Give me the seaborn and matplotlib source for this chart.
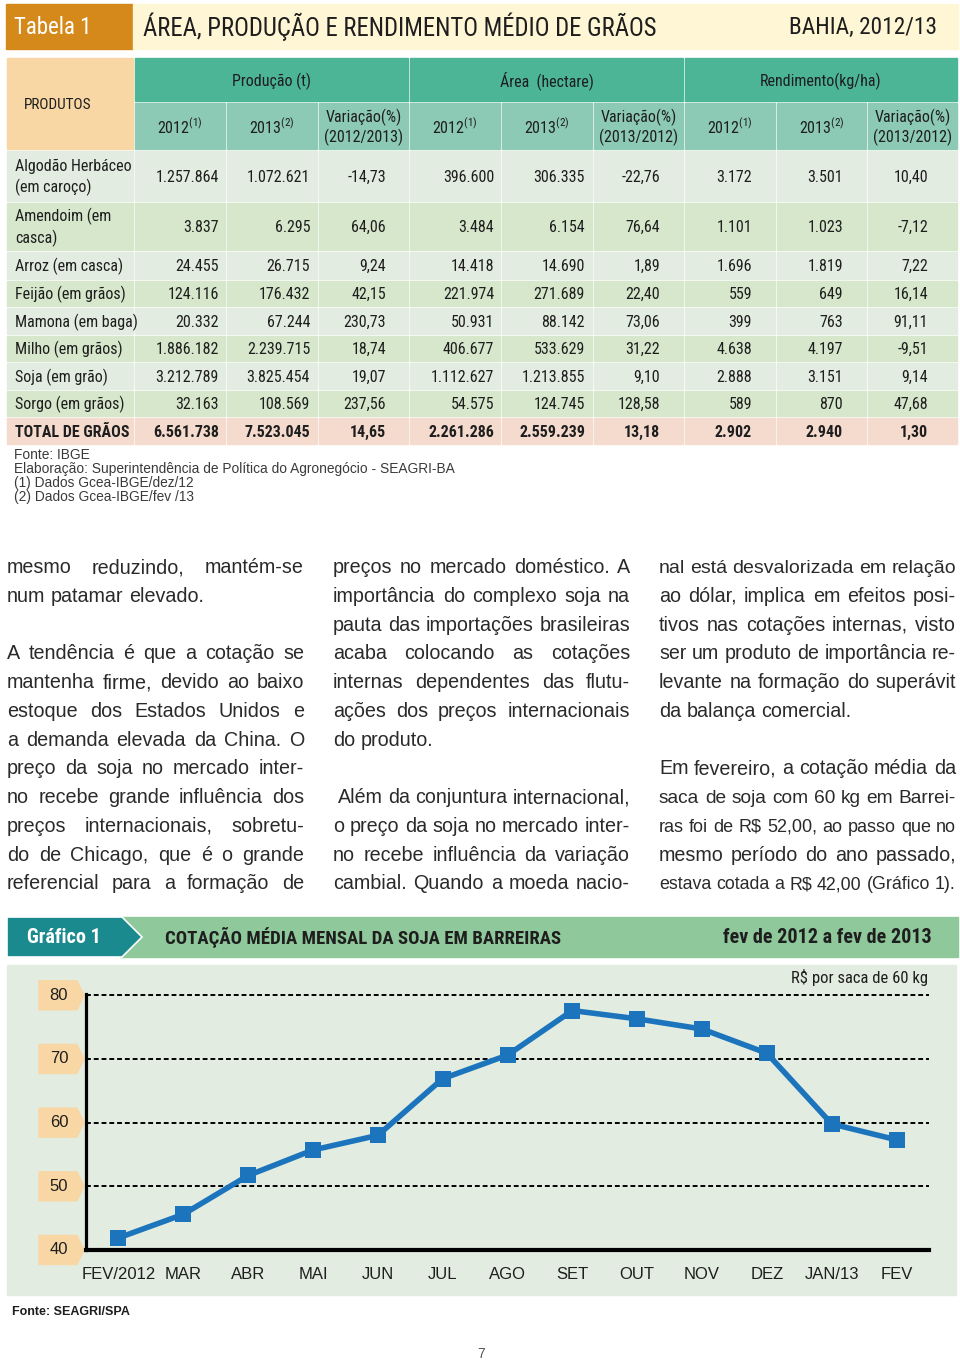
import numpy as np
import pandas as pd
import matplotlib
matplotlib.use("Agg")
import matplotlib.pyplot as plt
from matplotlib import font_manager
from matplotlib.patches import Rectangle, Polygon
import seaborn as sns

# ---------------- Tabela 1 ----------------
produtos = ["Algodão Herbáceo\n(em caroço)", "Amendoim (em\ncasca)", "Arroz (em casca)",
            "Feijão (em grãos)", "Mamona (em baga)", "Milho (em grãos)",
            "Soja (em grão)", "Sorgo (em grãos)", "TOTAL DE GRÃOS"]
producao_2012 = ["1.257.864", "3.837", "24.455", "124.116", "20.332", "1.886.182", "3.212.789", "32.163", "6.561.738"]
producao_2013 = ["1.072.621", "6.295", "26.715", "176.432", "67.244", "2.239.715", "3.825.454", "108.569", "7.523.045"]
producao_var = ["-14,73", "64,06", "9,24", "42,15", "230,73", "18,74", "19,07", "237,56", "14,65"]
area_2012 = ["396.600", "3.484", "14.418", "221.974", "50.931", "406.677", "1.112.627", "54.575", "2.261.286"]
area_2013 = ["306.335", "6.154", "14.690", "271.689", "88.142", "533.629", "1.213.855", "124.745", "2.559.239"]
area_var = ["-22,76", "76,64", "1,89", "22,40", "73,06", "31,22", "9,10", "128,58", "13,18"]
rend_2012 = ["3.172", "1.101", "1.696", "559", "399", "4.638", "2.888", "589", "2.902"]
rend_2013 = ["3.501", "1.023", "1.819", "649", "763", "4.197", "3.151", "870", "2.940"]
rend_var = ["10,40", "-7,12", "7,22", "16,14", "91,11", "-9,51", "9,14", "47,68", "1,30"]

grupos = ["Produção (t)", "Área  (hectare)", "Rendimento(kg/ha)"]
subtitulos = ["2012$^{(1)}$", "2013$^{(2)}$", "Variação(%)\n(2012/2013)",
              "2012$^{(1)}$", "2013$^{(2)}$", "Variação(%)\n(2013/2012)",
              "2012$^{(1)}$", "2013$^{(2)}$", "Variação(%)\n(2013/2012)"]
notas = ["Fonte: IBGE",
         "Elaboração: Superintendência de Política do Agronegócio - SEAGRI-BA",
         "(1) Dados Gcea-IBGE/dez/12",
         "(2) Dados Gcea-IBGE/fev /13"]

# ---------------- Grafico 1 ----------------
meses = ["FEV/2012", "MAR", "ABR", "MAI", "JUN", "JUL", "AGO", "SET", "OUT", "NOV", "DEZ", "JAN/13", "FEV"]
cotacao = [41.9, 45.6, 51.7, 55.7, 58.0, 66.9, 70.6, 77.6, 76.3, 74.7, 70.9, 59.8, 57.3]
y_ticks = [40, 50, 60, 70, 80]

# ---------------- texto corrido ----------------
coluna_1 = ["mesmo reduzindo, mantém-se",
            "num patamar elevado.",
            "",
            "A tendência é que a cotação se",
            "mantenha firme, devido ao baixo",
            "estoque dos Estados Unidos e",
            "a demanda elevada da China. O",
            "preço da soja no mercado inter-",
            "no recebe grande influência dos",
            "preços internacionais, sobretu-",
            "do de Chicago, que é o grande",
            "referencial para a formação de"]
coluna_2 = ["preços no mercado doméstico. A",
            "importância do complexo soja na",
            "pauta das importações brasileiras",
            "acaba colocando as cotações",
            "internas dependentes das flutu-",
            "ações dos preços internacionais",
            "do produto.",
            "",
            " Além da conjuntura internacional,",
            "o preço da soja no mercado inter-",
            "no recebe influência da variação",
            "cambial. Quando a moeda nacio-"]
coluna_3 = ["nal está desvalorizada em relação",
            "ao dólar, implica em efeitos posi-",
            "tivos nas cotações internas, visto",
            "ser um produto de importância re-",
            "levante na formação do superávit",
            "da balança comercial.",
            "",
            "Em fevereiro, a cotação média da",
            "saca de soja com 60 kg em Barrei-",
            r"ras foi de R\$ 52,00, ao passo que no",
            "mesmo período do ano passado,",
            r"estava cotada a R\$ 42,00 (Gráfico 1)."]

sns.set_style("white")
plt.rcParams["font.family"] = ["Liberation Sans", "DejaVu Sans"]
plt.rcParams["mathtext.default"] = "regular"

installed = {f.name for f in font_manager.fontManager.ttflist}
NARROW = {"family": ["DejaVu Sans"], "fontstretch": "condensed"}
for cand in ["Roboto Condensed", "Liberation Sans Narrow", "Open Sans Condensed"]:
    if cand in installed:
        NARROW = {"family": [cand, "DejaVu Sans"]}
        break

PEACH = "#f9d7a4"
TEAL = "#4bb596"
TEAL_LIGHT = "#8ccab6"
LIGHT = "#e3ece0"
GREEN = "#d6e7cc"
PINK = "#f4dbce"
INK = "#1e1e1e"
BLUE = "#1c75bc"

fig = plt.figure(figsize=(9.6, 13.61), dpi=100)
fig.patch.set_facecolor("white")
page = fig.add_axes([0, 0, 1, 1], zorder=0)
page.set_xlim(0, 960)
page.set_ylim(1361, 0)
page.axis("off")

# titulo da tabela
page.add_patch(Rectangle((6, 4), 127, 45, color="#d4891a"))
page.add_patch(Rectangle((133, 4), 825, 45, color="#fef6d4"))
page.text(14, 27, "Tabela 1", color="white", fontsize=16.5, va="center", **NARROW)
page.text(143, 27, "ÁREA, PRODUÇÃO E RENDIMENTO MÉDIO DE GRÃOS", color=INK, fontsize=17.8,
          va="center", **NARROW)
page.text(937, 27, "BAHIA, 2012/13", color=INK, fontsize=16.8, va="center", ha="right", **NARROW)

# cabecalho
col_x = [7, 134, 226, 318, 409, 501, 593, 684, 776, 867, 958]
page.add_patch(Rectangle((7, 58), 126, 91, color=PEACH))
page.text(24, 105, "PRODUTOS", color=INK, fontsize=11, va="center", **NARROW)
for g, nome in enumerate(grupos):
    x0, x1 = col_x[1 + 3 * g], col_x[4 + 3 * g]
    page.add_patch(Rectangle((x0 + 1, 58), x1 - x0 - 2, 43, color=TEAL))
    page.text((x0 + x1) / 2, 81, nome, color=INK, fontsize=11.5, ha="center", va="center", **NARROW)
for c, nome in enumerate(subtitulos):
    x0, x1 = col_x[c + 1], col_x[c + 2]
    page.add_patch(Rectangle((x0 + 1, 103), x1 - x0 - 2, 46, color=TEAL_LIGHT))
    page.text((x0 + x1) / 2, 127, nome, color=INK, fontsize=11.5, ha="center", va="center",
              linespacing=1.2, **NARROW)

# linhas de dados
valores = [producao_2012, producao_2013, producao_var, area_2012, area_2013, area_var,
           rend_2012, rend_2013, rend_var]
pads = [7, 8, 23, 7, 8, 24, 24, 24, 30]
row_h = [52, 49, 29, 27, 28, 27, 28, 27, 28]
cores = [LIGHT, GREEN, LIGHT, GREEN, LIGHT, GREEN, LIGHT, GREEN, PINK]
top = 151
for r, nome in enumerate(produtos):
    h = row_h[r]
    yc = top + (h - 2) / 2 + 1
    peso = "bold" if r == len(produtos) - 1 else "normal"
    page.add_patch(Rectangle((7, top), 126, h - 2, color=cores[r]))
    page.text(15, yc, nome, color=INK, fontsize=11.5, va="center", weight=peso,
              linespacing=1.35, **NARROW)
    for c, serie in enumerate(valores):
        x0, x1 = col_x[c + 1], col_x[c + 2]
        page.add_patch(Rectangle((x0 + 1, top), x1 - x0 - 2, h - 2, color=cores[r]))
        page.text(x1 - pads[c], yc, serie[r], color=INK, fontsize=11.5, ha="right",
                  va="center", weight=peso, **NARROW)
    top += h

for k, nota in enumerate(notas):
    page.text(14, 455 + 14 * k, nota, color="#3a3a3a", fontsize=9.9, va="center")

# texto em tres colunas justificado
renderer = fig.canvas.get_renderer()
CORPO = 14.2
BODY = dict(color="#2a2a2a", va="baseline", ha="left")


def escreve_coluna(linhas, x0, largura, continua):
    for k, linha in enumerate(linhas):
        if not linha.strip():
            continue
        y = 573 + 28.75 * k
        prox = linhas[k + 1] if k + 1 < len(linhas) else None
        justifica = (prox is not None and prox.strip() != "") or (prox is None and continua)
        inicio = x0 + 5 * (len(linha) - len(linha.lstrip()))
        palavras = linha.split()
        textos = [page.text(0, y, p, fontsize=CORPO, **BODY) for p in palavras]
        larg = [t.get_window_extent(renderer).width for t in textos]
        espaco = 0.278 * CORPO * 100 / 72
        natural = sum(larg) + espaco * (len(palavras) - 1)
        disponivel = x0 + largura - inicio
        if natural > disponivel:
            fator = disponivel / natural
            for t in textos:
                t.set_fontsize(CORPO * fator)
            larg = [t.get_window_extent(renderer).width for t in textos]
            espaco *= fator
        if justifica and len(palavras) > 1:
            gap = (disponivel - sum(larg)) / (len(palavras) - 1)
        else:
            gap = espaco
        x = inicio
        for t, w in zip(textos, larg):
            t.set_x(x)
            x += w + gap


escreve_coluna(coluna_1, 7, 297, True)
escreve_coluna(coluna_2, 333, 297, True)
escreve_coluna(coluna_3, 659, 297, False)

# faixa do grafico
page.add_patch(Rectangle((120, 917), 838, 40, color="#8fc99b"))
page.add_patch(Polygon([(7, 917), (122, 917), (142, 937), (122, 957), (7, 957)],
                       closed=True, facecolor="#1b8a8e", edgecolor="white", lw=1.2))
page.text(27, 937, "Gráfico 1", color="white", fontsize=14.5, va="center", weight="bold", **NARROW)
page.text(165, 937, "COTAÇÃO MÉDIA MENSAL DA SOJA EM BARREIRAS", color=INK, fontsize=13.5,
          va="center", weight="bold", **NARROW)
page.text(932, 937, "fev de 2012 a fev de 2013", color=INK, fontsize=14.5, va="center",
          ha="right", weight="bold", **NARROW)
page.add_patch(Rectangle((7, 965), 949, 330, color="#e3ece1"))
page.text(928, 977, r"R\$ por saca de 60 kg", color=INK, fontsize=12, ha="right",
          va="center", **NARROW)

ax = fig.add_axes([86 / 960, (1361 - 1250) / 1361, 843 / 960, 256 / 1361], zorder=2)
ax.set_facecolor("none")
df = pd.DataFrame({"pos": np.arange(len(meses)), "cotacao": cotacao})
sns.lineplot(data=df, x="pos", y="cotacao", ax=ax, color=BLUE, lw=4, marker="s",
             markersize=12, markeredgewidth=0, sort=False, zorder=3)
ax.set_xlim(-0.5, len(meses) - 0.5)
ax.set_ylim(40, 80.2)
ax.set_xticks(df["pos"], meses)
ax.set_xticks(df["pos"] + 0.5, minor=True)
ax.set_yticks(y_ticks)
ax.set_xlabel("")
ax.set_ylabel("")
ax.grid(axis="y", color="black", linestyle=(0, (2.5, 1.5)), lw=1.4)
ax.tick_params(axis="x", which="major", length=0, pad=12, labelsize=12, labelcolor=INK)
ax.tick_params(axis="x", which="minor", direction="in", length=5, width=2.5, color="black")
ax.tick_params(axis="y", direction="in", length=3, width=2.5, color="black", labelleft=False)
for s in ["top", "right"]:
    ax.spines[s].set_visible(False)
ax.spines["left"].set_linewidth(2.3)
ax.spines["bottom"].set_linewidth(3)
ax.spines["left"].set_color("black")
ax.spines["bottom"].set_color("black")

# etiquetas do eixo y
for v in y_ticks:
    yy = page.transData.inverted().transform(ax.transData.transform((0, v)))[1]
    page.add_patch(Polygon([(39, yy - 14.5), (77, yy - 14.5), (84, yy), (77, yy + 14.5), (39, yy + 14.5)],
                           closed=True, color=PEACH))
    page.text(59, yy, str(v), color=INK, fontsize=12, ha="center", va="center")

page.text(12, 1312, "Fonte: SEAGRI/SPA", color=INK, fontsize=9, weight="bold", va="center")
page.text(481, 1354, "7", color="#555555", fontsize=10, ha="center", va="center")

fig.savefig("out.png", dpi=100, facecolor="white")
